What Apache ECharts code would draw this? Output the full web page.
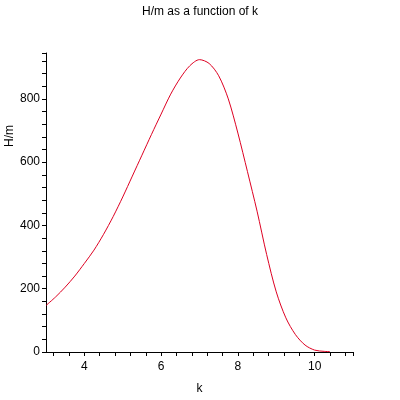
<!DOCTYPE html>
<html>
<head>
<meta charset="utf-8">
<script src="https://cdn.jsdelivr.net/npm/echarts@6/dist/echarts.min.js"></script>
<style>
  html, body { margin: 0; padding: 0; background: #fff; }
  #chart { width: 400px; height: 400px; }
</style>
</head>
<body>
<div id="chart"></div>
<script>
// values
var kValues = [3.0, 3.25, 3.5, 3.75, 4.0, 4.25, 4.5, 4.75, 5.0, 5.25, 5.5, 5.75, 6.0, 6.25, 6.5, 6.75,
  7.0, 7.25, 7.5, 7.75, 8.0, 8.25, 8.5, 8.75, 9.0, 9.25, 9.5, 9.75, 10.0, 10.25, 10.4];
var hValues = [147, 174, 205, 240, 280, 322, 372, 428, 490, 556, 622, 688, 752, 815, 866, 905,
  924, 912, 873, 800, 692, 570, 445, 308, 190, 108, 55, 22, 6, 2, 1];

// tick marks (every 0.4 / 40) and labelled ticks
var xTickValues = [3.2, 3.6, 4.0, 4.4, 4.8, 5.2, 5.6, 6.0, 6.4, 6.8, 7.2, 7.6, 8.0, 8.4, 8.8,
  9.2, 9.6, 10.0, 10.4, 10.8, 11];
var xLabelValues = [4, 6, 8, 10];
var yTickValues = [0, 40, 80, 120, 160, 200, 240, 280, 320, 360, 400, 440, 480, 520, 560, 600,
  640, 680, 720, 760, 800, 840, 880, 920, 945];
var yLabelValues = [0, 200, 400, 600, 800];

var chart = echarts.init(document.getElementById("chart"));
var font = "'Liberation Sans', Arial, sans-serif";

var points = kValues.map(function (k, i) {
  return [k, hValues[i]];
});

chart.setOption({
  animation: false,
  backgroundColor: "#fff",
  title: {
    text: "H/m as a function of k",
    left: "center",
    top: 1,
    textStyle: { fontSize: 12, fontWeight: "normal", color: "#000", fontFamily: font }
  },
  grid: { left: 46, right: 47, top: 53, bottom: 46 },
  xAxis: {
    type: "value",
    min: 3,
    max: 11,
    name: "k",
    nameLocation: "middle",
    nameGap: 31,
    nameTextStyle: { fontSize: 12, color: "#000", fontFamily: font },
    splitLine: { show: false },
    axisLine: { lineStyle: { color: "#000", width: 1 } },
    axisTick: { customValues: xTickValues, length: 4, lineStyle: { color: "#000" } },
    axisLabel: { customValues: xLabelValues, fontSize: 12, color: "#000", margin: 9, fontFamily: font }
  },
  yAxis: {
    type: "value",
    min: 0,
    max: 945,
    splitLine: { show: false },
    axisLine: { show: true, lineStyle: { color: "#000", width: 1 } },
    axisTick: { show: true, customValues: yTickValues, length: 4, lineStyle: { color: "#000" } },
    axisLabel: { customValues: yLabelValues, fontSize: 12, color: "#000", margin: 6, fontFamily: font }
  },
  graphic: [
    {
      type: "text",
      x: 10,
      y: 136,
      rotation: Math.PI / 2,
      style: {
        text: "H/m",
        fill: "#000",
        font: "12px " + font,
        align: "center",
        verticalAlign: "middle"
      }
    }
  ],
  series: [
    {
      type: "line",
      data: points,
      smooth: 0.3,
      showSymbol: false,
      lineStyle: { color: "#dd0022", width: 1 },
      itemStyle: { color: "#dd0022" }
    }
  ]
});
</script>
</body>
</html>
